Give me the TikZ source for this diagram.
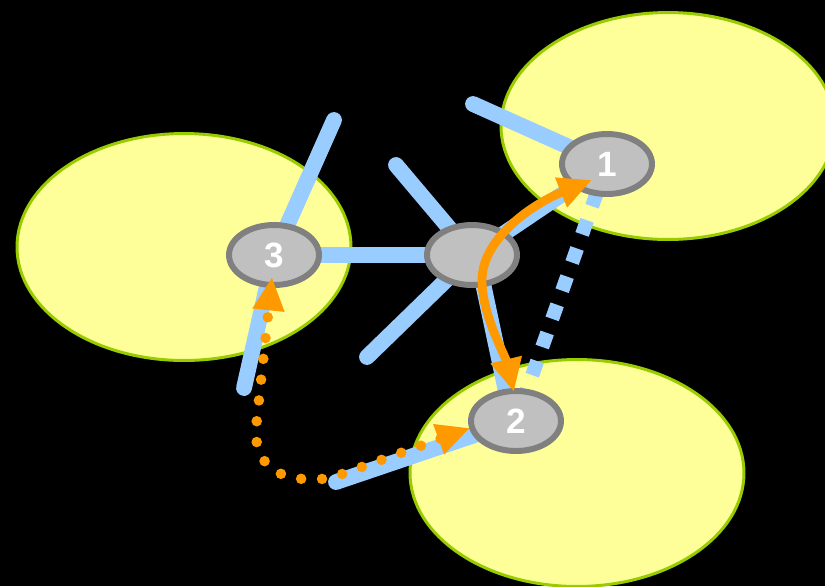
\documentclass[tikz,border=0pt]{standalone}
\usepackage{fontspec}
\setsansfont{Liberation Sans}
\usetikzlibrary{shapes.geometric,arrows.meta}

\definecolor{zoneyellow}{HTML}{FFFF99}
\definecolor{zonegreen}{HTML}{99CC00}
\definecolor{linkblue}{HTML}{99CCFF}
\definecolor{stationgray}{HTML}{C0C0C0}
\definecolor{stationrim}{HTML}{808080}
\definecolor{hoporange}{HTML}{FF9900}

\pgfdeclarelayer{zones}
\pgfdeclarelayer{links}
\pgfsetlayers{zones,links,main}

\begin{document}
\begin{tikzpicture}[x=0.02cm,y=-0.02cm,
    zone/.style={fill=zoneyellow,draw=zonegreen,line width=1.7pt},
    link/.style={draw=linkblue,line width=9pt,line cap=round},
    weaklink/.style={draw=linkblue,line width=8pt,dash pattern=on 8.5pt off 8.5pt},
    station/.style={ellipse,fill=stationgray,draw=stationrim,line width=3.4pt,
      minimum width=1.8cm,minimum height=1.2cm,inner sep=0pt,text=white,
      font=\sffamily\bfseries\fontsize{20}{20}\selectfont},
    hop/.style={draw=hoporange,line width=5pt,<->,
      >={Triangle[length=19pt,width=17pt]}},
    relay/.style={draw=hoporange,line width=6pt,line cap=round,
      dash pattern=on 0pt off 11.9pt,<->,
      >={Triangle[length=19pt,width=17pt]}}]

    % Background
    \useasboundingbox (0,0) rectangle (825,586);
    \begin{pgfonlayer}{zones}
      \fill[black] (0,0) rectangle (825,586);
      % Coverage zones
      \draw[zone] (668,126) ellipse (3.34cm and 2.27cm);
      \draw[zone] (184,247) ellipse (3.34cm and 2.27cm);
      \draw[zone] (577,473) ellipse (3.34cm and 2.27cm);
    \end{pgfonlayer}

    % Stations
    \node[station] (hub) at (472,255) {};
    \node[station] (n1) at (607,164) {1};
    \node[station] (n2) at (516,421) {2};
    \node[station] (n3) at (274,255) {3};

    % Loose ends of links
    \coordinate (s1) at (396,165);
    \coordinate (s2) at (367,357);
    \coordinate (s3) at (473,104);
    \coordinate (s4) at (334,120);
    \coordinate (s5) at (244,388);
    \coordinate (s6) at (336,482);

    % Links
    \begin{pgfonlayer}{links}
      \draw[link] (hub.center) -- (n3.center);
      \draw[link] (hub.center) -- (s1);
      \draw[link] (hub.center) -- (s2);
      \draw[link] (hub.center) -- (n1.center);
      \draw[link] ([xshift=0.1cm]hub.center) -- ([shift={(-8,-20)}]n2.center);
      \draw[link] (n1.center) -- (s3);
      \draw[link] (n3.center) -- (s4);
      \draw[link] (n3.center) -- (s5);
      \draw[link] (n2.center) -- (s6);
      \draw[weaklink] (n1.center) -- (n2.center);
    \end{pgfonlayer}

    % Direct hop 2 <-> 1
    \draw[hop] ([shift={(-2,-29)}]n2.center)
      .. controls (505,355) and (482,315) .. (482,280)
      .. controls (482,240) and (530,205) .. ([shift={(-15,16)}]n1.center);

    % Relayed hop 2 <-> 3
    \draw[relay] ([shift={(-46,7)}]n2.center) -- (331,478)
      .. controls (285,484) and (254,470) .. (256,428)
      -- ([shift={(-2,22)}]n3.center);
\end{tikzpicture}
\end{document}
